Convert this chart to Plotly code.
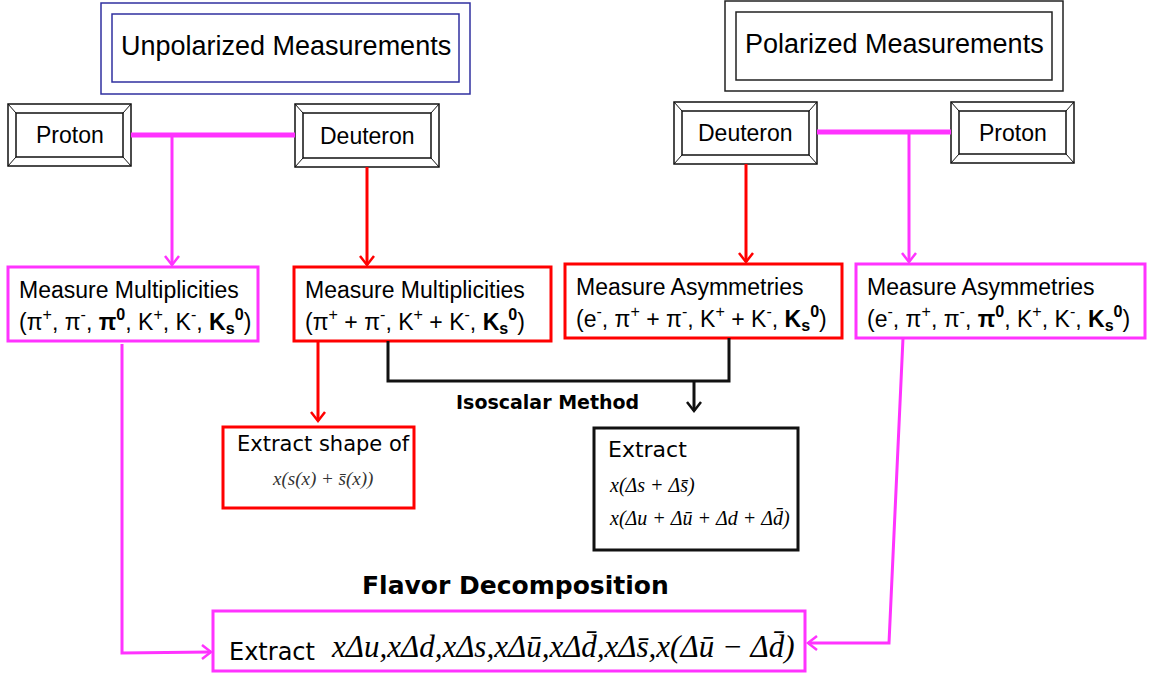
import plotly.graph_objects as go

W, H = 1157, 673

# ---------------- text content ----------------
header_labels = ["Unpolarized Measurements", "Polarized Measurements"]
target_labels = ["Proton", "Deuteron", "Deuteron", "Proton"]
measure_titles = ["Measure Multiplicities", "Measure Multiplicities",
                  "Measure Asymmetries", "Measure Asymmetries"]
measure_species = [
    "(π<sup>+</sup>, π<sup>-</sup>, <b>π<sup>0</sup></b>, K<sup>+</sup>, K<sup>-</sup>, <b>K<sub>s</sub><sup>0</sup></b>)",
    "(π<sup>+</sup> + π<sup>-</sup>, K<sup>+</sup> + K<sup>-</sup>, <b>K<sub>s</sub><sup>0</sup></b>)",
    "(e<sup>-</sup>, π<sup>+</sup> + π<sup>-</sup>, K<sup>+</sup> + K<sup>-</sup>, <b>K<sub>s</sub><sup>0</sup></b>)",
    "(e<sup>-</sup>, π<sup>+</sup>, π<sup>-</sup>, <b>π<sup>0</sup></b>, K<sup>+</sup>, K<sup>-</sup>, <b>K<sub>s</sub><sup>0</sup></b>)",
]
method_label = "Isoscalar Method"
extract_shape_title = "Extract shape of"
extract_shape_formula = "x(s(x) + s\u0304(x))"
extract_iso_title = "Extract"
extract_iso_formulas = ["x(Δs + Δs\u0304)", "x(Δu + Δu\u0304 + Δd + Δd\u0304)"]
flavor_label = "Flavor Decomposition"
final_title = "Extract"
final_formula = "xΔu,xΔd,xΔs,xΔu\u0304,xΔd\u0304,xΔs\u0304,x(Δu\u0304 − Δd\u0304)"

# ---------------- geometry (pixel layout) ----------------
MAG, RED, BLK, NAVY = "#ff33ff", "#ff0000", "#111111", "#3030a0"
SANS, TAH, SERIF = "Liberation Sans, Arial", "DejaVu Sans, Verdana", "Liberation Serif, Times New Roman"

header_boxes = [  # outer, inner, color
    ((101, 3, 470, 94), (112, 14, 459, 82), NAVY),
    ((725, 1, 1063, 91), (736, 12, 1052, 80), "#222222"),
]
target_boxes = [(8, 104, 131, 166), (295, 104, 439, 167),
                (674, 102, 817, 164), (951, 102, 1074, 163)]
measure_boxes = [(8, 267, 258, 341, MAG), (294, 267, 551, 341, RED),
                 (565, 264, 842, 338, RED), (856, 264, 1145, 338, MAG)]

shapes, annos = [], []


def rect(x0, y0, x1, y1, color, w):
    shapes.append(dict(type="rect", x0=x0, y0=y0, x1=x1, y1=y1,
                       line=dict(color=color, width=w), fillcolor="rgba(0,0,0,0)",
                       xref="x", yref="y", layer="above"))


def path(pts, color, w):
    d = "M " + " L ".join(f"{x},{y}" for x, y in pts)
    shapes.append(dict(type="path", path=d, line=dict(color=color, width=w),
                       xref="x", yref="y", layer="above"))


def head(x, y, direction, color, w, s=7, l=9):
    if direction == "down":
        pts = [(x - s, y - l), (x, y), (x + s, y - l)]
    elif direction == "right":
        pts = [(x - l, y - s), (x, y), (x - l, y + s)]
    else:
        pts = [(x + l, y - s), (x, y), (x + l, y + s)]
    path(pts, color, w)


def text(x, y, s, size, font=SANS, anchor="center", color="#000", bold=False):
    if bold:
        s = "<b>" + s + "</b>"
    annos.append(dict(x=x, y=y, xref="x", yref="y", text=s, showarrow=False,
                      xanchor=anchor, yanchor="middle",
                      font=dict(family=font, size=size, color=color)))


# header boxes
for (o, i, c), lab in zip(header_boxes, header_labels):
    rect(*o, c, 1.5)
    rect(*i, c, 1.5)
    text((i[0] + i[2]) / 2, (i[1] + i[3]) / 2 - 2, lab, 27)

# beveled target boxes
for (x0, y0, x1, y1), lab in zip(target_boxes, target_labels):
    ix0, iy0, ix1, iy1 = x0 + 8, y0 + 9, x1 - 8, y1 - 9
    rect(x0, y0, x1, y1, BLK, 1.5)
    rect(ix0, iy0, ix1, iy1, BLK, 1.5)
    for a, b in [((x0, y0), (ix0, iy0)), ((x1, y0), (ix1, iy0)),
                 ((x0, y1), (ix0, iy1)), ((x1, y1), (ix1, iy1))]:
        path([a, b], BLK, 1)
    text((x0 + x1) / 2, (y0 + y1) / 2, lab, 23)

# connectors between proton / deuteron
path([(131, 135), (295, 135)], MAG, 5)
path([(817, 132), (951, 132)], MAG, 5)
# downward arrows to measure boxes
path([(172, 135), (172, 265)], MAG, 3); head(172, 265, "down", MAG, 2.5)
path([(367, 167), (367, 265)], RED, 3); head(367, 265, "down", RED, 2.5)
path([(746, 164), (746, 262)], RED, 3); head(746, 262, "down", RED, 2.5)
path([(909, 132), (909, 262)], MAG, 3); head(909, 262, "down", MAG, 2.5)

# measure boxes
for (x0, y0, x1, y1, c), t1, t2 in zip(measure_boxes, measure_titles, measure_species):
    rect(x0, y0, x1, y1, c, 3)
    text(x0 + 9, y0 + 23, t1, 23, anchor="left")
    text(x0 + 9, y0 + 54, t2, 23, anchor="left")

# isoscalar connector
path([(388, 341), (388, 381), (729, 381), (729, 338)], BLK, 3)
path([(694, 381), (694, 411)], BLK, 3); head(694, 411, "down", BLK, 2.5)
text(547, 402, method_label, 19, font=TAH, bold=True)

# red arrow to shape box
path([(318, 341), (318, 421)], RED, 3); head(318, 421, "down", RED, 2.5)

# extract shape box
rect(223, 427, 414, 508, RED, 3)
text(323, 444, extract_shape_title, 21, font=TAH)
text(322, 479, "<i>" + extract_shape_formula + "</i>", 19, font=SERIF, color="#333")

# isoscalar extract box
rect(594, 428, 798, 550, BLK, 3)
text(606, 449, extract_iso_title, 22, font=TAH, anchor="left")
text(607, 485, "<i>" + extract_iso_formulas[0] + "</i>", 20, font=SERIF, anchor="left")
text(607, 518, "<i>" + extract_iso_formulas[1] + "</i>", 20, font=SERIF, anchor="left")

# flavor decomposition
text(515, 585, flavor_label, 25, font=TAH, bold=True)
rect(213, 611, 805, 671, MAG, 3)
text(227, 652, final_title, 24, font=TAH, anchor="left")
text(329, 646, "<i>" + final_formula + "</i>", 31, font=SERIF, anchor="left")

# side connectors to final box
path([(122, 344), (122, 653), (211, 652)], MAG, 3); head(211, 652, "right", MAG, 2.5)
path([(903, 338), (889, 643), (808, 643)], MAG, 3); head(808, 643, "left", MAG, 2.5)

fig = go.Figure()
fig.add_trace(go.Scatter(x=[0, W], y=[0, H], mode="markers",
                         marker=dict(opacity=0), hoverinfo="skip", showlegend=False))
fig.update_layout(
    width=W, height=H, margin=dict(l=0, r=0, t=0, b=0),
    paper_bgcolor="white", plot_bgcolor="white",
    xaxis=dict(range=[0, W], visible=False, fixedrange=True),
    yaxis=dict(range=[H, 0], visible=False, fixedrange=True),
    shapes=shapes, annotations=annos, showlegend=False,
)
fig.write_html("out.html", config={"displayModeBar": False},
               post_script="document.body.style.margin='0';document.body.style.overflow='hidden';")
